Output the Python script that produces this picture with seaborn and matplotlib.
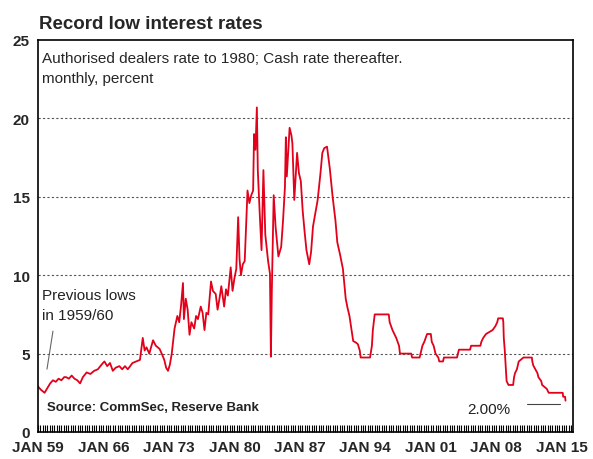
import numpy as np
import pandas as pd
import matplotlib.pyplot as plt
import seaborn as sns

# monthly-ish readings: authorised dealers rate to 1980, cash rate after
years = [1959.0, 1959.3, 1959.7, 1960.0, 1960.3, 1960.6, 1960.9, 1961.2, 1961.5, 1961.8,
         1962.0, 1962.3, 1962.6, 1962.9, 1963.2, 1963.5, 1963.8, 1964.2, 1964.6, 1965.0,
         1965.4, 1965.8, 1966.1, 1966.4, 1966.7, 1967.0, 1967.3, 1967.7, 1968.0, 1968.3,
         1968.6, 1969.1, 1969.5, 1969.9, 1970.2, 1970.4, 1970.6, 1970.9, 1971.3, 1971.6,
         1972.0, 1972.3, 1972.5, 1972.7, 1972.9, 1973.1, 1973.3, 1973.6, 1973.9, 1974.1,
         1974.3, 1974.5, 1974.6, 1974.8, 1975.0, 1975.2, 1975.4, 1975.7, 1975.9, 1976.1,
         1976.4, 1976.6, 1976.8, 1977.0, 1977.2, 1977.5, 1977.7, 1978.0, 1978.2, 1978.4,
         1978.6, 1978.9, 1979.1, 1979.3, 1979.6, 1979.8, 1980.0, 1980.2, 1980.4, 1980.55,
         1980.7, 1980.9, 1981.1, 1981.4, 1981.6, 1981.8, 1982.0, 1982.1, 1982.25, 1982.4,
         1982.5, 1982.7, 1982.9, 1983.1, 1983.3, 1983.6, 1983.8, 1983.9, 1984.0, 1984.2,
         1984.4, 1984.7, 1985.0, 1985.2, 1985.4, 1985.5, 1985.6, 1985.9, 1986.1, 1986.2,
         1986.4, 1986.7, 1986.9, 1987.1, 1987.3, 1987.5, 1987.7, 1988.0, 1988.2, 1988.4,
         1988.7, 1988.9, 1989.2, 1989.4, 1989.6, 1989.9, 1990.2, 1990.5, 1990.8, 1991.0,
         1991.3, 1991.6, 1991.9, 1992.1, 1992.3, 1992.5, 1992.7, 1993.0, 1993.2, 1993.4,
         1993.5, 1994.5, 1994.7, 1994.8, 1995.0, 1996.5, 1996.6, 1996.9, 1997.3, 1997.6,
         1997.7, 1998.9, 1999.0, 1999.8, 1999.9, 2000.1, 2000.3, 2000.6, 2001.0, 2001.1,
         2001.3, 2001.5, 2001.8, 2001.9, 2002.3, 2002.4, 2003.8, 2003.9, 2004.0, 2005.2,
         2005.3, 2006.3, 2006.4, 2006.6, 2006.9, 2007.6, 2007.9, 2008.1, 2008.2, 2008.7,
         2008.75, 2008.8, 2008.9, 2009.0, 2009.1, 2009.3, 2009.8, 2009.85, 2009.9, 2010.0,
         2010.2, 2010.3, 2010.4, 2010.9, 2011.8, 2011.85, 2011.95, 2012.4, 2012.5, 2012.8,
         2012.9, 2013.4, 2013.6, 2015.1, 2015.15, 2015.35, 2015.4]
rates = [2.9, 2.7, 2.5, 2.8, 3.1, 3.3, 3.2, 3.4, 3.3, 3.5,
         3.5, 3.4, 3.6, 3.4, 3.3, 3.1, 3.5, 3.8, 3.7, 3.9,
         4.0, 4.3, 4.5, 4.2, 4.4, 3.9, 4.1, 4.2, 4.0, 4.2,
         4.0, 4.4, 4.5, 4.6, 6.0, 5.2, 5.4, 5.0, 5.85, 5.5,
         5.3, 4.9, 4.6, 4.1, 3.9, 4.3, 5.0, 6.6, 7.4, 7.0,
         8.1, 9.5, 7.2, 8.5, 7.8, 6.2, 7.0, 6.6, 7.4, 7.2,
         8.0, 7.6, 6.5, 7.6, 7.5, 9.6, 9.0, 8.8, 7.8, 8.5,
         9.3, 8.0, 9.1, 8.7, 10.5, 9.0, 9.8, 10.4, 13.7, 11.0,
         10.0, 10.7, 10.9, 15.4, 14.6, 15.1, 15.4, 19.0, 18.0, 20.7,
         16.7, 14.0, 11.6, 16.7, 12.6, 10.9, 10.1, 4.8, 9.0, 15.1,
         13.1, 11.2, 11.8, 13.5, 15.6, 18.8, 16.3, 19.4, 18.9, 18.4,
         14.8, 17.8, 16.5, 16.0, 14.1, 12.8, 11.6, 10.7, 11.5, 13.1,
         14.1, 14.8, 16.5, 17.8, 18.1, 18.2, 16.8, 15.0, 13.5, 12.1,
         11.3, 10.4, 8.5, 7.9, 7.4, 6.6, 5.8, 5.7, 5.6, 5.2,
         4.75, 4.75, 5.5, 6.5, 7.5, 7.5, 7.0, 6.5, 6.0, 5.5,
         5.0, 5.0, 4.75, 4.75, 5.0, 5.5, 5.75, 6.25, 6.25, 5.75,
         5.5, 5.0, 4.75, 4.5, 4.5, 4.75, 4.75, 5.0, 5.25, 5.25,
         5.5, 5.5, 5.75, 6.0, 6.25, 6.5, 6.75, 7.0, 7.25, 7.25,
         7.0, 6.0, 5.25, 4.25, 3.25, 3.0, 3.0, 3.25, 3.5, 3.75,
         4.0, 4.25, 4.5, 4.75, 4.75, 4.5, 4.25, 3.75, 3.5, 3.25,
         3.0, 2.75, 2.5, 2.5, 2.25, 2.25, 2.0]

tick_years = [1959, 1966, 1973, 1980, 1987, 1994, 2001, 2008, 2015]
tick_labels = ["JAN 59", "JAN 66", "JAN 73", "JAN 80", "JAN 87", "JAN 94", "JAN 01", "JAN 08", "JAN 15"]
y_ticks = [0, 5, 10, 15, 20, 25]

df = pd.DataFrame({"year": years, "rate": rates})

sns.set_style("white")
plt.rcParams['font.family'] = ['Liberation Sans', 'DejaVu Sans']

fig = plt.figure(figsize=(5.93, 4.6), dpi=100)
ax = fig.add_axes([38/593, 1 - 433/460, 535/593, 392/460])

sns.lineplot(data=df, x="year", y="rate", ax=ax, color="#e2001a", linewidth=1.3)

ax.set_xlim(1959, 2016.2)
ax.set_ylim(0, 25)
ax.set_xlabel("")
ax.set_ylabel("")

# dotted gridlines
for g in [5, 10, 15, 20]:
    ax.axhline(g, color="#555555", linestyle=(0, (2, 2)), linewidth=0.8, zorder=0)

ax.set_yticks(y_ticks)
ax.set_yticklabels([str(v) for v in y_ticks], fontsize=11, fontweight="bold")
ax.tick_params(axis="y", length=0, pad=6)

ax.set_xticks(tick_years)
ax.set_xticklabels(tick_labels, fontsize=11, fontweight="bold")
ax.set_xticks(np.arange(1959, 2016.2, 0.25), minor=True)
ax.tick_params(axis="x", which="both", bottom=True, direction="in", length=5, width=0.8,
               pad=6, color="black")

for s in ax.spines.values():
    s.set_color("black")
    s.set_linewidth(1.2)

ax.text(1959.45, 23.85, "Authorised dealers rate to 1980; Cash rate thereafter.", fontsize=11, va="center")
ax.text(1959.45, 22.6, "monthly, percent", fontsize=11, va="center")
ax.text(1959.45, 8.75, "Previous lows", fontsize=11, va="center", color="#222222")
ax.text(1959.45, 7.45, "in 1959/60", fontsize=11, va="center", color="#222222")
ax.plot([1960.6, 1959.96], [6.43, 4.01], color="#666666", linewidth=0.8)
ax.text(1959.95, 1.6, "Source: CommSec, Reserve Bank", fontsize=9.5, fontweight="bold", va="center", color="#222222")
ax.text(2004.85, 1.45, "2.00%", fontsize=11, va="center", color="#222222")
ax.plot([2011.3, 2014.8], [1.78, 1.78], color="#444444", linewidth=0.8)

fig.text(39/593, 1 - 29/460, "Record low interest rates", fontsize=13.5, fontweight="bold", va="baseline")

fig.savefig("out.png", dpi=100)
